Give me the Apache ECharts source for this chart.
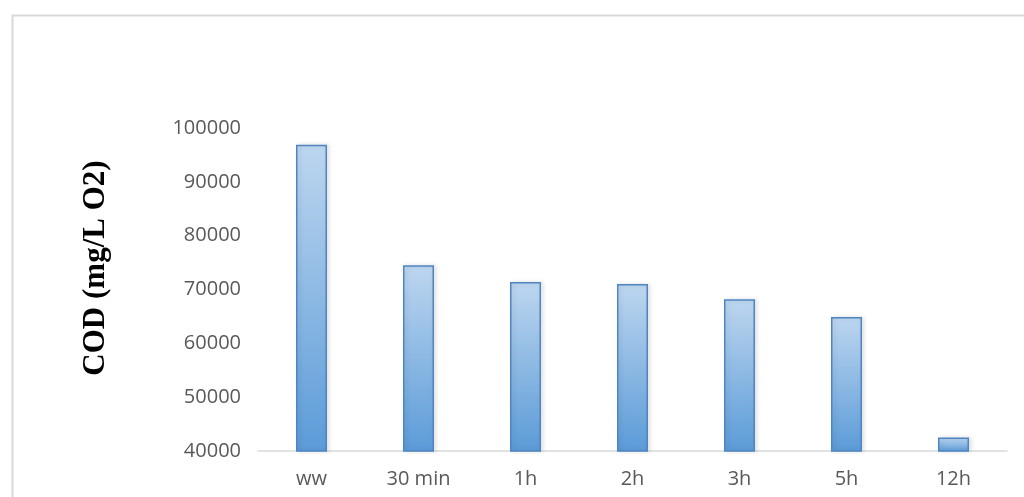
<!DOCTYPE html>
<html>
<head>
<meta charset="utf-8">
<script src="https://cdn.jsdelivr.net/npm/echarts@6/dist/echarts.min.js"></script>
<style>
  html, body { margin: 0; padding: 0; background: #ffffff; }
  #chart { width: 1024px; height: 497px; }
</style>
</head>
<body>
<div id="chart"></div>
<script>
// Sampling times and measured COD values
const categories = ['ww', '30 min', '1h', '2h', '3h', '5h', '12h'];
const codValues = [96900, 74500, 71400, 71000, 68200, 64900, 42500];
const yAxisTitle = 'COD (mg/L O2)';

const chart = echarts.init(document.getElementById('chart'));

chart.setOption({
  backgroundColor: '#ffffff',
  animation: false,
  graphic: [
    {
      // outer chart frame
      type: 'rect',
      shape: { x: 12.5, y: 15.5, width: 1030, height: 500 },
      style: { fill: 'none', stroke: '#d9d9d9', lineWidth: 2 },
      silent: true
    },
    {
      // vertical axis title
      type: 'text',
      x: 96,
      y: 268,
      rotation: Math.PI / 2,
      style: {
        text: yAxisTitle,
        fontFamily: 'Liberation Serif',
        fontWeight: 'bold',
        fontSize: 31,
        fill: '#000000',
        align: 'center',
        verticalAlign: 'middle'
      },
      silent: true
    }
  ],
  grid: { left: 258, right: 17, top: 128, bottom: 46 },
  xAxis: {
    type: 'category',
    data: categories,
    axisLine: { lineStyle: { color: '#d9d9d9', width: 1.5 } },
    axisTick: { show: false },
    axisLabel: {
      color: '#595959',
      fontFamily: 'Open Sans',
      fontSize: 20,
      margin: 18
    }
  },
  yAxis: {
    type: 'value',
    min: 40000,
    max: 100000,
    interval: 10000,
    axisLine: { show: false },
    axisTick: { show: false },
    splitLine: { show: false },
    axisLabel: {
      color: '#595959',
      fontFamily: 'Open Sans',
      fontSize: 20,
      margin: 17,
      formatter: function (v) { return String(v); }
    }
  },
  series: [{
    type: 'bar',
    data: codValues,
    barWidth: 31,
    itemStyle: {
      color: new echarts.graphic.LinearGradient(0, 0, 0, 1, [
        { offset: 0, color: '#bdd6ef' },
        { offset: 1, color: '#5b9bd8' }
      ]),
      borderColor: '#4f86c2',
      borderWidth: 1.5,
      shadowColor: 'rgba(0,0,0,0.12)',
      shadowBlur: 4,
      shadowOffsetX: 2,
      shadowOffsetY: 0
    }
  }]
});
</script>
</body>
</html>
